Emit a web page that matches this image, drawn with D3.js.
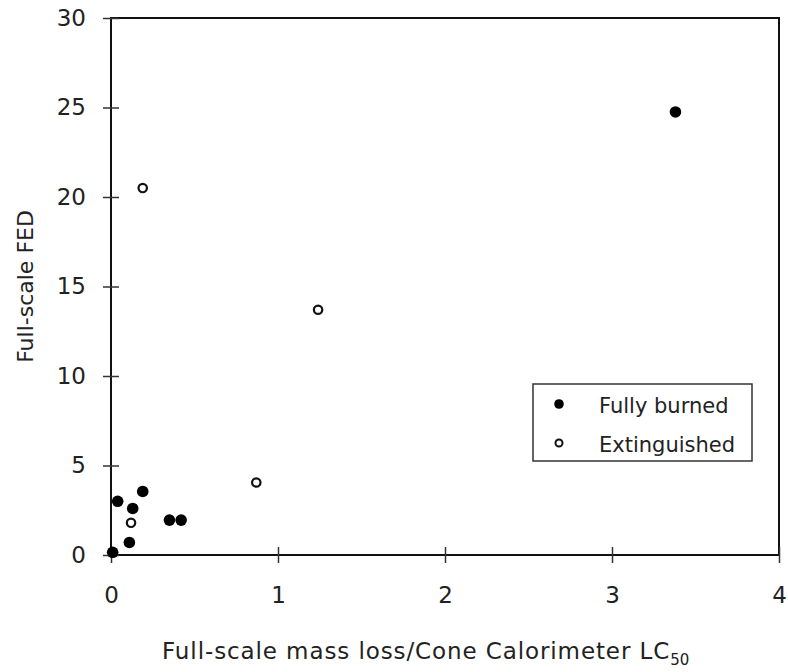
<!DOCTYPE html>
<html>
<head>
<meta charset="utf-8">
<script src="https://cdn.jsdelivr.net/npm/d3@7"></script>
<style>
	body { margin: 0; background: #fff; }
	text { font-family: "DejaVu Sans", Verdana, sans-serif; fill: #222; }
</style>
</head>
<body>
<svg id="chart" width="788" height="672"></svg>
<script>
// data
var burnedX = [0.01, 0.04, 0.11, 0.13, 0.19, 0.35, 0.42, 3.38];
var burnedY = [0.15, 3.0, 0.7, 2.6, 3.55, 1.95, 1.95, 24.75];
var extX = [0.12, 0.19, 0.87, 1.24];
var extY = [1.8, 20.5, 4.05, 13.7];
var xTicks = [0, 1, 2, 3, 4];
var yTicks = [0, 5, 10, 15, 20, 25, 30];
var legendLabels = ['Fully burned', 'Extinguished'];

var svg = d3.select('#chart');
var pL = 111, pT = 18, pR = 779, pB = 555;

var x = d3.scaleLinear().domain([0, 4]).range([pL, pR]);
var y = d3.scaleLinear().domain([0, 30]).range([pB, pT]);

// frame
svg.append('rect')
	.attr('x', pL).attr('y', pT)
	.attr('width', pR - pL).attr('height', pB - pT)
	.attr('fill', 'none').attr('stroke', '#111').attr('stroke-width', 2);

// axes, ticks cross the line
var xAxis = svg.append('g').attr('transform', 'translate(0,' + pB + ')')
	.call(d3.axisBottom(x).tickValues(xTicks).tickSize(8).tickPadding(24).tickFormat(d3.format('d')));
xAxis.selectAll('line').attr('y1', -8).attr('stroke', '#333').attr('stroke-width', 1.5);

var yAxis = svg.append('g').attr('transform', 'translate(' + pL + ',0)')
	.call(d3.axisLeft(y).tickValues(yTicks).tickSize(8).tickPadding(17).tickFormat(d3.format('d')));
yAxis.selectAll('line').attr('x1', 8).attr('stroke', '#333').attr('stroke-width', 1.5);

svg.selectAll('.domain').remove();
svg.selectAll('.tick text')
	.attr('font-size', 23)
	.attr('font-family', '"DejaVu Sans", Verdana, sans-serif')
	.attr('fill', '#222');

// axis titles
svg.append('text')
	.attr('transform', 'translate(33,' + ((pT + pB) / 2) + ') rotate(-90)')
	.attr('text-anchor', 'middle')
	.attr('font-size', 22)
	.text('Full-scale FED');

var xt = svg.append('text')
	.attr('x', 162).attr('y', 659)
	.attr('font-size', 23)
	.attr('letter-spacing', 0.9)
	.text('Full-scale mass loss/Cone Calorimeter LC');
xt.append('tspan').attr('font-size', 15).attr('dy', 6).attr('letter-spacing', 0).text('50');

// points
var burned = burnedX.map(function(d, i){ return [d, burnedY[i]]; });
var ext = extX.map(function(d, i){ return [d, extY[i]]; });

svg.append('g').selectAll('circle').data(burned).enter().append('circle')
	.attr('cx', function(d){ return x(d[0]); })
	.attr('cy', function(d){ return y(d[1]); })
	.attr('r', 5.8)
	.attr('fill', '#000');

svg.append('g').selectAll('circle').data(ext).enter().append('circle')
	.attr('cx', function(d){ return x(d[0]); })
	.attr('cy', function(d){ return y(d[1]); })
	.attr('r', 4.2)
	.attr('fill', '#fff')
	.attr('stroke', '#111')
	.attr('stroke-width', 2.2);

// legend
var lg = svg.append('g').attr('transform', 'translate(533,384)');
lg.append('rect').attr('width', 219).attr('height', 77)
	.attr('fill', '#fff').attr('stroke', '#333').attr('stroke-width', 1.5);
lg.selectAll('.lab').data(legendLabels).enter().append('text')
	.attr('x', 66).attr('y', function(d, i){ return 29 + i * 39; })
	.attr('font-size', 21)
	.text(function(d){ return d; });
lg.append('circle').attr('cx', 26).attr('cy', 20).attr('r', 4.8).attr('fill', '#000');
lg.append('circle').attr('cx', 26).attr('cy', 59).attr('r', 3.5)
	.attr('fill', '#fff').attr('stroke', '#111').attr('stroke-width', 2);
</script>
</body>
</html>
